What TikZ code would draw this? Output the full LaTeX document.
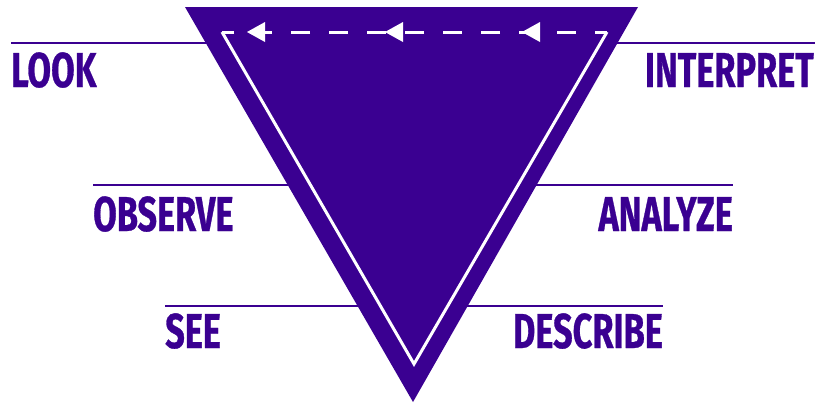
\documentclass[tikz,border=0pt]{standalone}
\usepackage{fontspec}
\newfontfamily\lblfont[FakeStretch=0.7, FakeBold=0.6]{Fira Sans}
\definecolor{viola}{HTML}{3A0091}
\tikzset{
  stagelbl/.style={text=viola, inner sep=0pt, font=\lblfont\bfseries\fontsize{49}{49}\selectfont},
  rule/.style={draw=viola, line width=2.8pt},
  flow/.style={draw=white, line width=3pt, line join=miter}
}
\begin{document}
\begin{tikzpicture}[x=1pt, y=-1pt, line cap=butt]
  \useasboundingbox (0,0) rectangle (816,408);
  % rules behind the triangle
  \draw[rule] (11,43)--(413,43) (413,43)--(815,43);
  \draw[rule] (93,185)--(413,185) (413,185)--(733,185);
  \draw[rule] (165,306)--(413,306) (413,306)--(663,306);
  % triangle
  \coordinate (tl) at (185,7);
  \coordinate (tr) at (638,7);
  \coordinate (bt) at (413,402);
  \fill[viola] (tl)--(tr)--(bt)--cycle;
  % inner loop
  \coordinate (itl) at (222,32);
  \coordinate (itr) at (607,32);
  \coordinate (ibt) at (414,364);
  \draw[flow] (itr)--(ibt)--(itl);
  \draw[flow, dash pattern=on 19pt off 19pt, dash phase=7pt] (itr)--(itl);
  \foreach \t in {247,385,522}
    \fill[white] (\t,32)--++(18,-10)--++(0,20)--cycle;
  % labels
  \node[stagelbl, anchor=base west] (look) at (11,87) {LOOK};
  \node[stagelbl, anchor=base east] (interpret) at (814,87) {INTERPRET};
  \node[stagelbl, anchor=base west] (observe) at (93,231) {OBSERVE};
  \node[stagelbl, anchor=base east] (analyze) at (733,231) {ANALYZE};
  \node[stagelbl, anchor=base west] (see) at (165,348) {SEE};
  \node[stagelbl, anchor=base east] (describe) at (663,348) {DESCRIBE};
\end{tikzpicture}
\end{document}
